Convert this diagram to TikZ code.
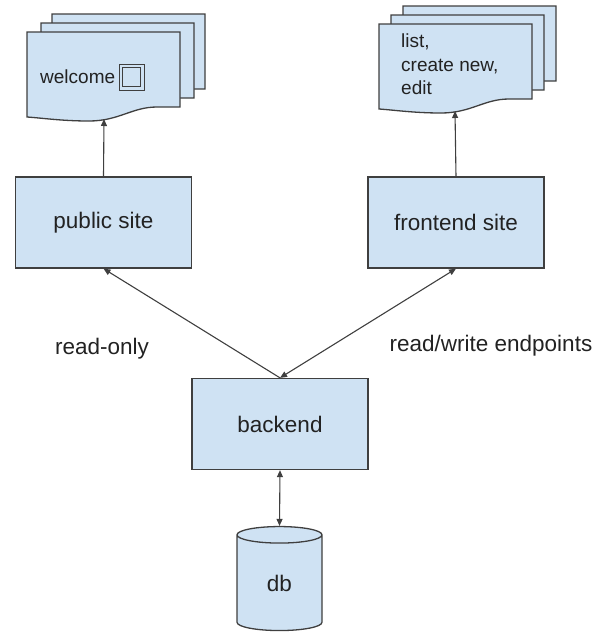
\documentclass[tikz,border=0pt]{standalone}
\usepackage{fontspec}
\setmainfont{Liberation Sans}
\usepackage{tikz}
\usetikzlibrary{arrows.meta,shapes.geometric}
\definecolor{boxfill}{HTML}{CFE2F3}
\definecolor{edge}{HTML}{3F3F3F}
\definecolor{ink}{HTML}{222222}
\def\PG#1#2{\draw [page,shift={(#1,#2)}] (0,0) -- (153,0) -- (153,75) -- (130,75) .. controls (105,75) and (92,89) .. (62,89) .. controls (35,89) and (15,86) .. (0,85) -- cycle;}
\tikzset{
  page/.style={fill=boxfill,draw=edge,line width=1.3pt},
  box/.style={rectangle,fill=boxfill,draw=edge,line width=1.3pt,minimum width=176pt,minimum height=91pt,text=ink,font=\fontsize{22.5}{27}\selectfont},
  link/.style={draw=edge,line width=1.1pt,-{Triangle[length=7pt,width=6pt]}},
  both/.style={link,{Triangle[length=7pt,width=6pt]}-{Triangle[length=7pt,width=6pt]}},
}

\begin{document}
\begin{tikzpicture}[x=1pt,y=-1pt]
\useasboundingbox (0,0) rectangle (599,638);
% pages of the public site
\PG{52}{14} \PG{41}{23} \PG{27}{32}
\node [anchor=west,text=ink,font=\fontsize{19}{23}\selectfont,inner sep=0] (welcome) at (40,77) {welcome};
\draw [draw=edge,line width=1pt] (119,64) rectangle (144,90);
\draw [draw=edge,line width=1.6pt] (122.5,67.5) rectangle (140.5,86.5);
\coordinate (pubdoc) at (104,119);
% pages of the frontend site
\PG{403}{6} \PG{391}{15} \PG{379}{24}
\node [anchor=north west,align=left,text=ink,font=\fontsize{19}{23.5}\selectfont,inner sep=0] (pages) at (401,34) {list,\\create new,\\edit};
\coordinate (frontdoc) at (455,111);

\node [box] (pub) at (103.5,222.5) {public site};
\node [box] (front) at (456,222.5) {frontend site};
\node [box] (back) at (280,424) {backend};
\node [cylinder,shape border rotate=90,aspect=0.66,fill=boxfill,draw=edge,line width=1.3pt,minimum width=85pt,minimum height=104pt,inner sep=0,text=ink,font=\fontsize{22.5}{27}\selectfont] (db) at (279.5,583) {db};

\draw [link] (pub.north) -- (pubdoc);
\draw [link] (front.north) -- (frontdoc);
\draw [link] (back.north) -- (pub.south);
\draw [both] (back.north) -- (front.south);
\draw [both] (back.south) -- (db.north);

\node [text=ink,font=\fontsize{22.5}{27}\selectfont] (ro) at (102,349) {read-only};
\node [text=ink,font=\fontsize{22.5}{27}\selectfont] (rw) at (491,346) {read/write endpoints};
\end{tikzpicture}
\end{document}
